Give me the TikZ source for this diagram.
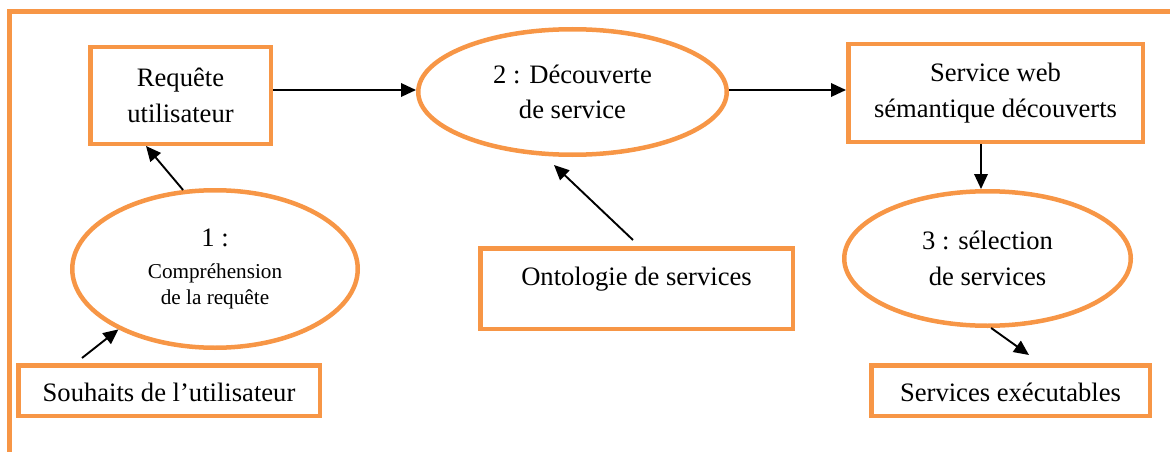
\documentclass[tikz,border=0pt]{standalone}
\usepackage{fontspec}
\setmainfont{Liberation Serif}
\usetikzlibrary{shapes.geometric,arrows.meta,calc}
\definecolor{accor}{HTML}{F79646}
\tikzset{
  boxnode/.style={draw=accor, line width=4.5pt, rectangle, inner sep=0pt, align=center,
    font=\fontsize{26.6}{35.5}\selectfont},
  ellnode/.style={draw=accor, line width=4.5pt, ellipse, inner sep=0pt, align=center,
    font=\fontsize{26.6}{35.5}\selectfont},
  arr/.style={line width=1.9pt, -{Triangle[length=15pt,width=13.5pt]}},
  frameline/.style={draw=accor, line width=5pt}
}
\begin{document}
\begin{tikzpicture}[x=1pt,y=-1pt]
\useasboundingbox (0,0) rectangle (1170,452);
% outer frame (partial)
\coordinate (ftl) at (9.5,11.5);
\draw[frameline] (9.5,452) -- (ftl) -- (1170,11.5);
% nodes
\node[boxnode, minimum width=180.5pt, minimum height=96.5pt] (req) at (180.5,95.5) {Requête\\utilisateur};
\node[ellnode, minimum width=308.5pt, minimum height=125.5pt] (e2) at (572.5,92) {2 : Découverte\\de service};
\node[boxnode, minimum width=294.5pt, minimum height=97.5pt] (sw) at (995.5,93) {Service web\\sémantique découverts};
\node[ellnode, minimum width=285.5pt, minimum height=157.5pt, font=\fontsize{21.2}{26}\selectfont] (e1) at (215,269)
  {{\fontsize{26.6}{26.6}\selectfont 1 :}\\[6pt]Compréhension\\de la requête};
\node[boxnode, minimum width=312.5pt, minimum height=80.5pt, text height=20pt, text depth=26pt] (onto) at (636.5,288.5) {Ontologie de services};
\node[ellnode, minimum width=286.5pt, minimum height=134.5pt] (e3) at (987.5,258.5) {3 : sélection\\de services};
\node[boxnode, minimum width=301.5pt, minimum height=50.5pt, text height=22pt, text depth=0pt] (souh) at (169,390.5) {Souhaits de l’utilisateur};
\node[boxnode, minimum width=278.5pt, minimum height=50.5pt, text height=22pt, text depth=0pt] (exec) at (1010.5,390.5) {Services exécutables};
% connectors
\draw[arr] (req.east |- 0,90) -- (e2.west |- 0,90);
\draw[arr] (e2.east |- 0,90) -- (sw.west |- 0,90);
\draw[arr] (sw.south -| 981,0) -- (e3.north -| 981,0);
\draw[arr] (e3.-87) -- ($(exec.north)+(18.5,-8)$);
\draw[arr] (e1.112) -- (req.south -| 146,0);
\draw[arr] ($(souh.north)+(-87,-5)$) -- (e1.212);
\draw[arr] ($(onto.north)+(-3.5,-6)$) -- ($(e2.south)+(-18.5,8)$);
\end{tikzpicture}
\end{document}
